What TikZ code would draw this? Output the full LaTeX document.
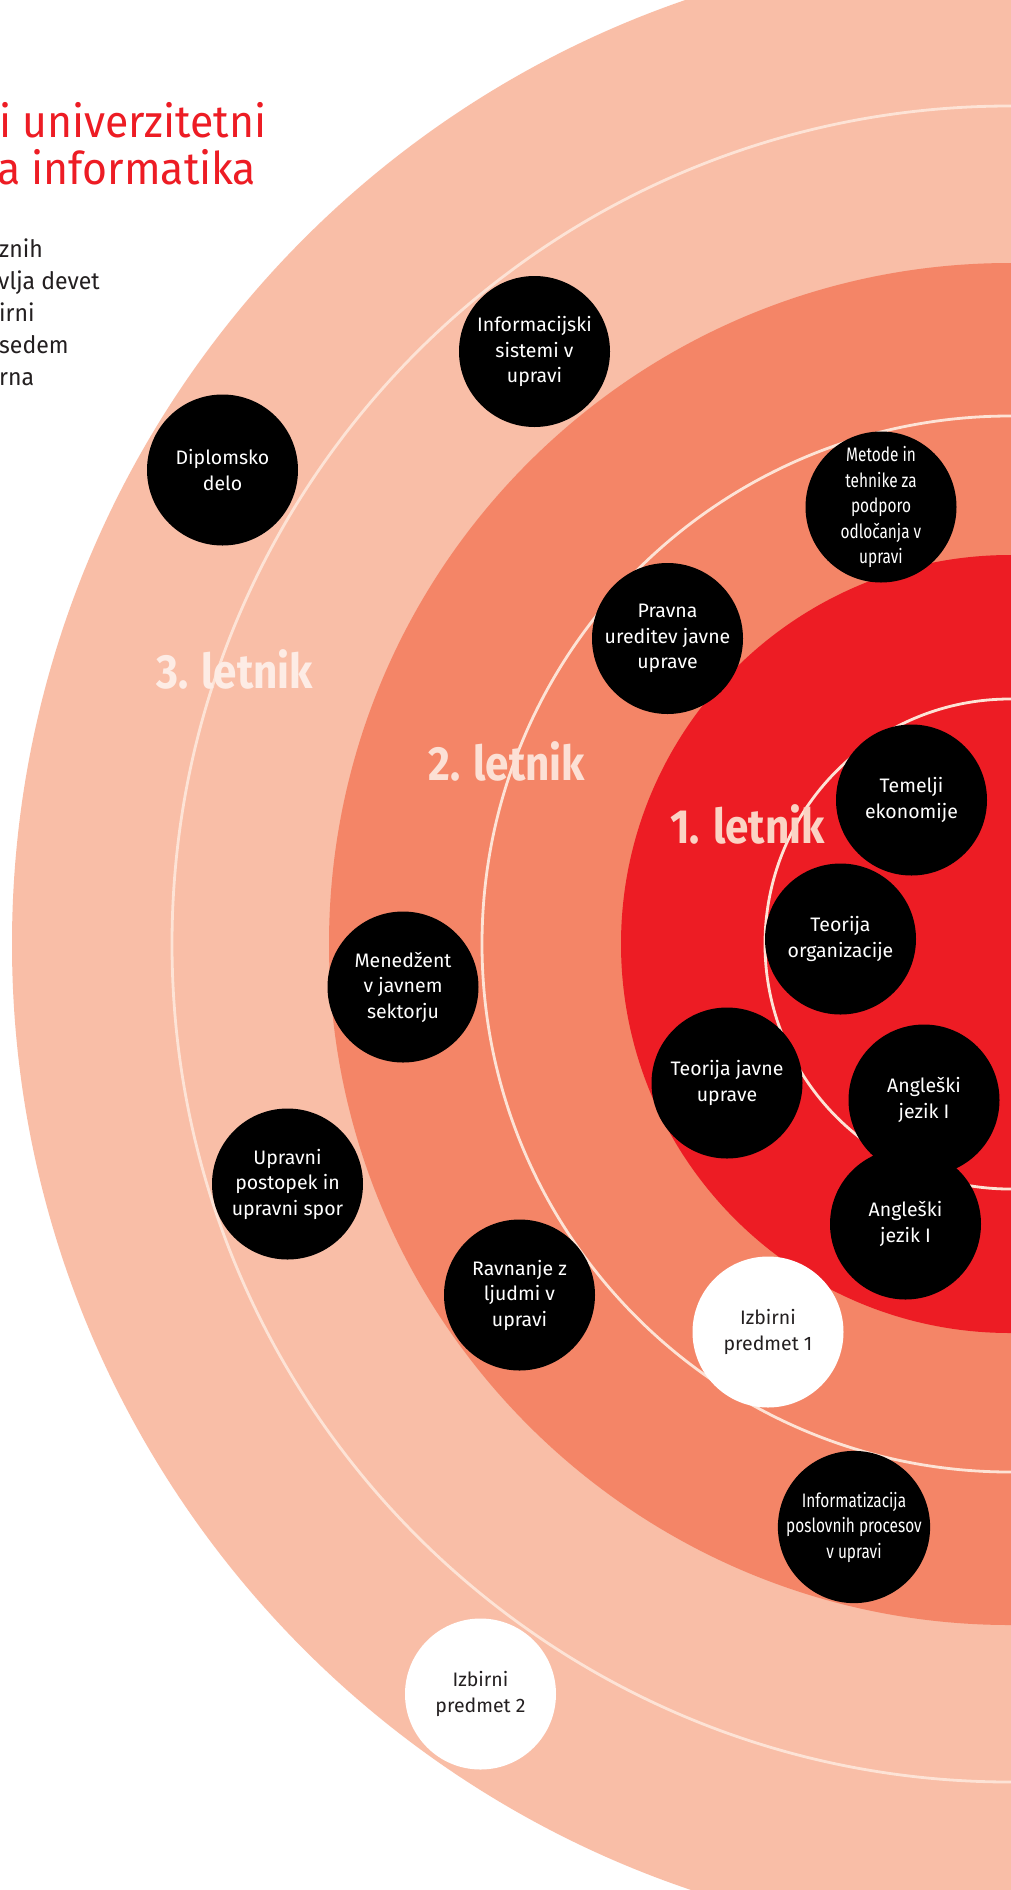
\documentclass[tikz,border=0pt]{standalone}
\usepackage{fontspec}
\setmainfont{Fira Sans}
\newfontfamily\condfont[FakeStretch=0.79]{Fira Sans}
\newfontfamily\labfont[FakeStretch=0.88]{Fira Sans}
\newfontfamily\titlefont[FakeStretch=0.95]{Fira Sans}
\newfontfamily\bodyfont[FakeStretch=0.96]{Fira Sans}
\definecolor{ringA}{HTML}{F9BEA7}
\definecolor{ringB}{HTML}{F48567}
\definecolor{ringC}{HTML}{ED1C24}
\definecolor{ringline}{HTML}{FDE3D6}
\definecolor{inkgray}{HTML}{231F20}
\definecolor{titlered}{HTML}{ED1C24}
\definecolor{labA}{HTML}{FDECE5}
\definecolor{labB}{HTML}{FCE0D5}
\definecolor{labC}{HTML}{FBD3C4}
\tikzset{
  ringstroke/.style={draw=ringline, line width=2.8pt},
  course/.style={circle, fill=black, minimum size=151pt, inner sep=0pt, text=white,
    align=center, font=\fontsize{19.5}{25.5}\selectfont},
  condcourse/.style={course, font=\condfont\fontsize{19.5}{25.5}\selectfont},
  elective/.style={course, fill=white, text=inkgray},
  yearlab/.style={anchor=base west, inner sep=0pt, font=\labfont\bfseries\fontsize{48}{50}\selectfont},
  titletext/.style={anchor=base west, inner sep=0pt, text=titlered, font=\titlefont\fontsize{45}{47}\selectfont},
  bodytext/.style={anchor=base west, inner sep=0pt, text=inkgray, font=\bodyfont\fontsize{24}{32}\selectfont}
}
\begin{document}
\begin{tikzpicture}[x=1pt,y=-1pt]
\fill[white] (0,0) rectangle (1010,1890);
\useasboundingbox (0,0) rectangle (1010,1890);
\coordinate (ctr) at (1010,944);
% rings
\fill[ringA] (ctr) circle[radius=998pt];
\draw[ringstroke] (ctr) circle[radius=838pt];
\fill[ringB] (ctr) circle[radius=681pt];
\draw[ringstroke] (ctr) circle[radius=528pt];
\fill[ringC] (ctr) circle[radius=389pt];
\draw[ringstroke] (ctr) circle[radius=245pt];
% title and body text
\node[titletext] (t1) at (-1,137) {i univerzitetni};
\node[titletext] (t2) at (-3,184) {a informatika};
\node[bodytext] (b1) at (-1,257) {znih};
\node[bodytext] (b2) at (-2,289) {vlja devet};
\node[bodytext] (b3) at (-1,321) {irni};
\node[bodytext] (b4) at (-1,353) {sedem};
\node[bodytext] (b5) at (-1,385) {rna};
% year labels
\node[yearlab, text=labA] (y3) at (156,688) {3. letnik};
\node[yearlab, text=labB] (y2) at (428,780) {2. letnik};
\node[yearlab, text=labC] (y1) at (670,843) {1. letnik};
% courses
\node[course] (c1) at (534.5,351.5) {Informacijski\\sistemi v\\upravi};
\node[course] (c2) at (222.5,470) {Diplomsko\\delo};
\node[condcourse] (c3) at (881,507) {Metode in\\tehnike za\\podporo\\odločanja v\\upravi};
\node[course] (c4) at (667.5,638.5) {Pravna\\ureditev javne\\uprave};
\node[course] (c5) at (911.5,800) {Temelji\\ekonomije};
\node[course] (c6) at (840.5,939) {Teorija\\organizacije};
\node[course] (c7) at (727,1083) {Teorija javne\\uprave};
\node[course] (c8) at (924,1100) {Angleški\\jezik I};
\node[course] (c9) at (905.5,1224) {Angleški\\jezik I};
\node[elective] (c10) at (768,1332) {Izbirni\\predmet 1};
\node[course] (c11) at (403,987) {Menedžent\\v javnem\\sektorju};
\node[course] (c12) at (287.5,1184) {Upravni\\postopek in\\upravni spor};
\node[course] (c13) at (519.5,1295) {Ravnanje z\\ljudmi v\\upravi};
\node[condcourse] (c14) at (854,1527) {Informatizacija\\poslovnih procesov\\v upravi};
\node[elective] (c15) at (480.5,1694) {Izbirni\\predmet 2};
\end{tikzpicture}
\end{document}
